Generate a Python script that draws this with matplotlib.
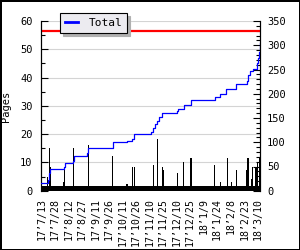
import numpy as np
import pandas as pd
import matplotlib
matplotlib.use('Agg')
import matplotlib.pyplot as plt

# daily pages read (left axis)
read_dates = ['2017-07-13', '2017-07-20', '2017-07-22', '2017-07-23', '2017-08-07',
              '2017-08-08', '2017-08-18', '2017-09-03', '2017-09-30', '2017-10-16',
              '2017-10-22', '2017-10-24', '2017-11-14', '2017-11-19', '2017-11-24',
              '2017-11-25', '2017-12-11', '2017-12-18', '2017-12-26', '2018-01-21',
              '2018-01-28', '2018-02-04', '2018-02-09', '2018-02-14', '2018-02-26',
              '2018-02-27', '2018-03-03', '2018-03-04', '2018-03-08', '2018-03-10',
              '2018-03-12']
pages = [16, 5, 15, 8.5, 3, 8.5, 15, 16, 12.3, 2.4,
         8.5, 8.5, 9, 18.3, 8.5, 7.3, 6.4, 10.3, 11.5, 9.1,
         3, 11.5, 3, 7.3, 7.3, 11.5, 4, 8.5, 8.5, 10.3, 12]

# running total (right axis)
total_dates = ['2017-07-13', '2017-07-20', '2017-07-22', '2017-07-23', '2017-08-07',
               '2017-08-08', '2017-08-17', '2017-08-18', '2017-09-02', '2017-09-03',
               '2017-09-30', '2017-10-16', '2017-10-22', '2017-10-24', '2017-11-12',
               '2017-11-14', '2017-11-16', '2017-11-18', '2017-11-20', '2017-11-24',
               '2017-12-10', '2017-12-12', '2017-12-18', '2017-12-26', '2018-01-21',
               '2018-01-27', '2018-02-03', '2018-02-14', '2018-02-26', '2018-02-27',
               '2018-03-01', '2018-03-05', '2018-03-09', '2018-03-10', '2018-03-11',
               '2018-03-12']
total = [16.5, 22.5, 37, 44.7, 48, 56.5, 62, 71.5, 77, 87.4,
         99.8, 102.5, 107, 117, 121.7, 128.7, 137, 143.7, 151.4, 159.6,
         165, 168, 176.7, 186.4, 194, 199.4, 209, 220, 227, 238.6,
         247.5, 252, 262.7, 273, 286.7, 305]

goal = 330

tick_dates = ['2017-07-13', '2017-07-28', '2017-08-12', '2017-08-27', '2017-09-11',
              '2017-09-26', '2017-10-11', '2017-10-26', '2017-11-10', '2017-11-25',
              '2017-12-10', '2017-12-25', '2018-01-09', '2018-01-24', '2018-02-08',
              '2018-02-23', '2018-03-10']
tick_labels = ['17\u20197/13', '17\u20197/28', '17\u20198/12', '17\u20198/27', '17\u20199/11',
               '17\u20199/26', '17\u201910/11', '17\u201910/26', '17\u201911/10', '17\u201911/25',
               '17\u201912/10', '17\u201912/25', '18\u20191/9', '18\u20191/24', '18\u20192/8',
               '18\u20192/23', '18\u20193/10']

plt.rcParams['font.family'] = ['DejaVu Sans Mono']

fig = plt.figure(figsize=(3, 2.5), dpi=100)
fig.patch.set_facecolor('white')
fig.patch.set_edgecolor('black')
fig.patch.set_linewidth(2)
ax = fig.add_axes([0.136, 0.237, 0.731, 0.679])
ax2 = ax.twinx()

x_read = pd.to_datetime(read_dates)
x_total = pd.to_datetime(total_dates)
x_ticks = pd.to_datetime(tick_dates)

# daily bars + black base band
ax.axhspan(0, 1.8, color='black', lw=0, zorder=2)
ax.bar(x_read, pages, width=1.3, color='black', lw=0, zorder=3)
ax.set_ylim(0, 60)
ax.set_yticks(np.arange(0, 61, 10))
ax.set_yticks(np.arange(0, 61, 5), minor=True)
ax.grid(axis='y', color='#d4d4d4', lw=0.8, zorder=0)
ax.set_axisbelow(True)
ax.set_ylabel('Pages', fontsize=7.5)
ax.yaxis.set_label_coords(-0.135, 0.5)

start = pd.Timestamp(read_dates[0]) - pd.Timedelta(hours=12)
end = pd.Timestamp(read_dates[-1]) + pd.Timedelta(hours=12)
ax.set_xlim(start, end)
ax.set_xticks(x_ticks)
ax.set_xticklabels(tick_labels, rotation=90, fontsize=7.1)
ax.tick_params(axis='x', length=0, pad=5)
ax.tick_params(axis='y', which='major', direction='in', length=5, width=0.8,
               labelsize=7.5, pad=6)
ax.tick_params(axis='y', which='minor', direction='in', length=3, width=0.8)

ax2.step(x_total, total, where='post', color='#0000ff', lw=0.9, label='Total', zorder=3)
ax2.axhline(goal, color='#ff0000', lw=1.6, zorder=2)
ax2.set_ylim(0, 350)
ax2.set_yticks(np.arange(0, 351, 50))
ax2.set_yticks(np.arange(0, 351, 10), minor=True)
ax2.tick_params(axis='y', which='major', direction='in', length=5, width=0.8,
                labelsize=7.5, pad=5)
ax2.tick_params(axis='y', which='minor', direction='in', length=3, width=0.8)

for a in (ax, ax2):
    a.spines['top'].set_visible(False)
    a.spines['bottom'].set_visible(False)
    a.spines['left'].set_linewidth(0.8)
    a.spines['right'].set_linewidth(0.8)

leg = ax2.legend(loc='upper left', bbox_to_anchor=(0.088, 1.047), borderaxespad=0,
                 fontsize=8, handlelength=1.2, handletextpad=0.9, borderpad=0.45,
                 fancybox=False, framealpha=1, edgecolor='black',
                 shadow={'color': '#b0b0b0', 'alpha': 1})
leg.get_frame().set_facecolor('#ecebf0')
leg.get_frame().set_linewidth(0.8)
for line in leg.get_lines():
    line.set_linewidth(2)

fig.savefig('out.png', dpi=100)
